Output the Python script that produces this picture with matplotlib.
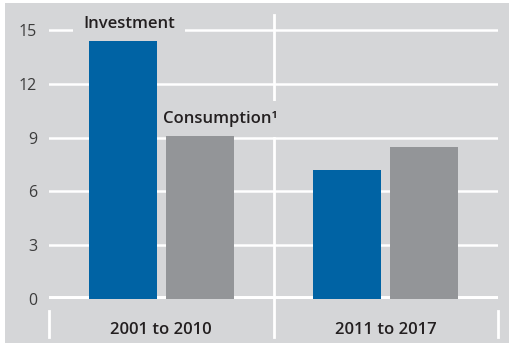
import numpy as np
import matplotlib.pyplot as plt
from matplotlib.patches import Rectangle
from matplotlib.lines import Line2D

periods = ['2001 to 2010', '2011 to 2017']
investment = [14.4, 7.2]
consumption = [9.1, 8.5]
y_ticks = [0, 3, 6, 9, 12, 15]

BG = '#d5d6d8'
BLUE = '#0063a4'
GREY = '#939598'
TEXT = '#231f20'

plt.rcParams['font.family'] = ['Open Sans', 'DejaVu Sans']

fig = plt.figure(figsize=(5.1, 3.45), dpi=100)
fig.patch.set_facecolor('white')
W, H = 510, 345

# grey panel behind everything
fig.patches.append(Rectangle((5 / W, 1 - 343 / H), 505 / W, 340 / H,
                             transform=fig.transFigure, facecolor=BG,
                             edgecolor='none', zorder=-1))

ax = fig.add_axes([49 / W, 1 - 299 / H, 449 / W, 284 / H])
ax.set_facecolor('none')
for s in ax.spines.values():
    s.set_visible(False)

x = np.arange(len(periods))
bw = 0.303
off = 0.1715
ax.bar(x - off, investment, bw, color=BLUE, zorder=3)
ax.bar(x + off, consumption, bw, color=GREY, zorder=3)

ax.set_xlim(-0.5, 1.5)
ax.set_ylim(0, 15.84)

# horizontal grid
for t in y_ticks:
    ax.axhline(t, color='white', lw=4.3 if t == 0 else 1.8, zorder=1)

ax.set_yticks(y_ticks)
ax.set_yticklabels([str(t) for t in y_ticks], fontsize=11.5, color='#3c3c3c')
ax.tick_params(axis='y', length=0, pad=8.5)
ax.set_xticks([])

# vertical separators
ax.add_line(Line2D([0.5, 0.5], [-0.134, 1.0], transform=ax.transAxes,
                   color='white', lw=2, clip_on=False, zorder=1))
for xs in (0.0, 1.0):
    ax.add_line(Line2D([xs, xs], [-0.134, -0.042], transform=ax.transAxes,
                       color='white', lw=2, clip_on=False, zorder=1))

# category labels under the axis
for i, p in enumerate(periods):
    ax.text((i + 0.5) / 2, -0.109, p, transform=ax.transAxes, ha='center',
            va='center', fontsize=12, fontweight='semibold', color=TEXT)

# series labels above the first group of bars; the box hides the grid behind
box = dict(boxstyle='square,pad=0.6', facecolor=BG, edgecolor='none')
ax.annotate('Investment', (0 - off - bw / 2, investment[0]),
            xytext=(-4, 12), textcoords='offset points', ha='left',
            va='center', fontsize=12, fontweight='semibold', color=TEXT,
            bbox=box, zorder=2)
ax.annotate('Consumption\u00b9', (0 + off - bw / 2, consumption[0]),
            xytext=(-2, 12), textcoords='offset points', ha='left',
            va='center', fontsize=12, fontweight='semibold', color=TEXT,
            bbox=box, zorder=2)

fig.savefig('out.png', dpi=100, facecolor=fig.get_facecolor())
